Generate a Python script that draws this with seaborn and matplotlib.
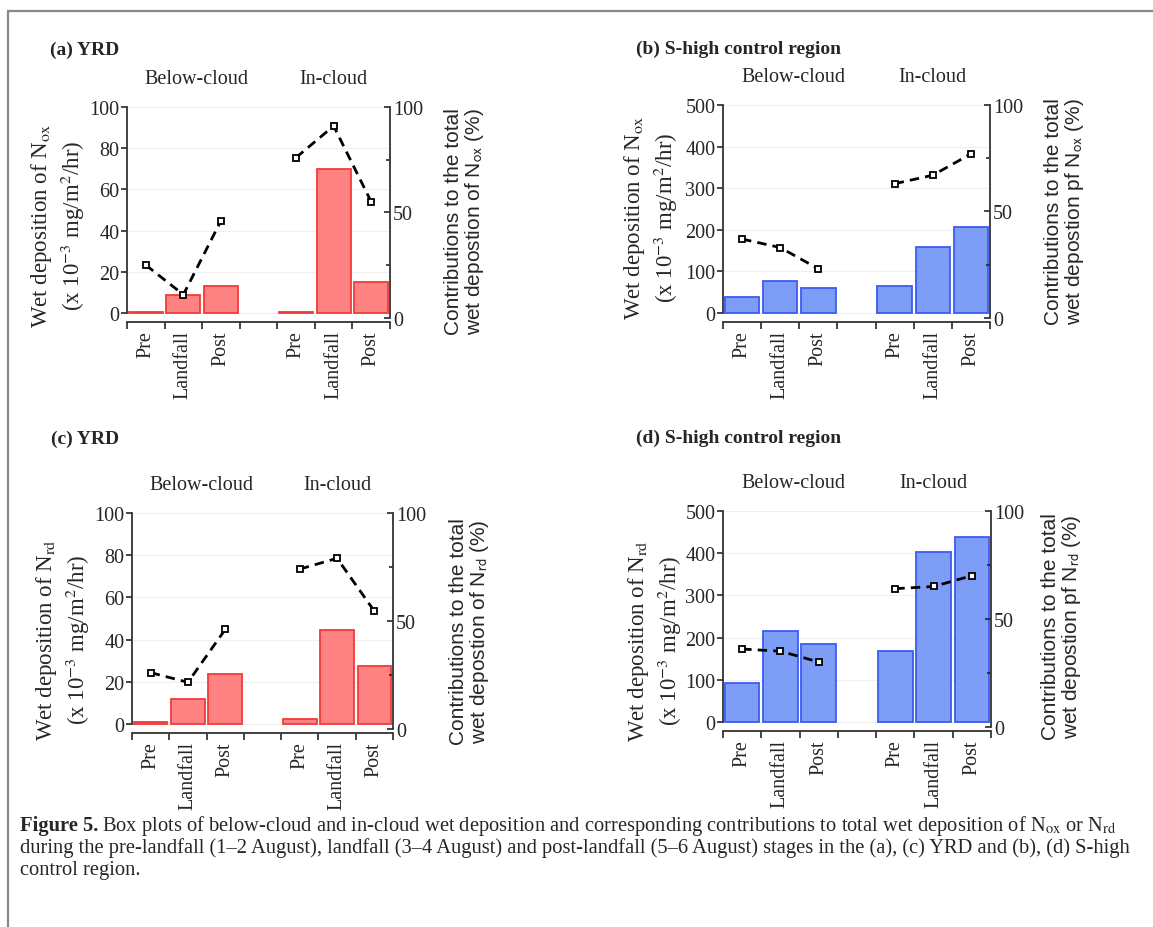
import numpy as np
import pandas as pd
import matplotlib.pyplot as plt
import seaborn as sns
from matplotlib.lines import Line2D

sns.set_style("ticks")
plt.rcParams['font.family'] = ['Liberation Serif', 'DejaVu Serif']
plt.rcParams['axes.unicode_minus'] = False

# categories
stages = ['Pre', 'Landfall', 'Post']
groups = ['Below-cloud', 'In-cloud']

# wet deposition (x 10^-3 mg/m2/hr): below-cloud Pre/Landfall/Post, in-cloud Pre/Landfall/Post
nox_yrd = [0.6, 8.9, 13, 0.6, 70, 15]
nox_shigh = [38, 77, 61, 66, 158, 207]
nrd_yrd = [0.8, 11.6, 23.5, 2.5, 44.5, 27.5]
nrd_shigh = [92, 215, 185, 167, 403, 438]

# contribution to total wet deposition (%)
nox_yrd_pct = [25, 11, 46, 76, 91, 55]
nox_shigh_pct = [37, 33, 23, 63, 67, 77]
nrd_yrd_pct = [26, 21.5, 46, 74, 79, 54.5]
nrd_shigh_pct = [36, 35, 30, 64, 65, 70]

W, H = 1153, 928
fig = plt.figure(figsize=(W / 100, H / 100), dpi=100)

RED = ('#ff8282', '#f23a3a')
BLUE = ('#7d9df7', '#3b5cf0')
slot = [0, 1, 2, 4, 5, 6]


def px_rect(l, r, t, b):
    return [l / W, 1 - b / H, (r - l) / W, (b - t) / H]


def panel(box, vals, pct, ymax, ystep, cols, title, title_xy, sp, rlab, lab_xy, rlab_xy):
    ax = fig.add_axes(px_rect(*box))
    df = pd.DataFrame({'pos': slot, 'val': vals})
    sns.barplot(data=df, x='pos', y='val', native_scale=True, width=0.9,
                color=cols[0], edgecolor=cols[1], linewidth=1.3,
                saturation=1, errorbar=None, ax=ax)
    ax.set_xlim(-0.5, 6.5)
    ax.set_ylim(-0.043 * ymax, ymax)
    ax.set_yticks(np.arange(0, ymax + 1, ystep))
    ax.set_xticks(slot)
    ax.set_xticklabels(stages * 2, rotation=90, fontsize=14.5)
    ax.set_xticks(np.arange(-0.5, 7, 1), minor=True)
    ax.tick_params(axis='x', which='major', length=0, pad=6)
    ax.tick_params(axis='x', which='minor', length=5, width=1.2, direction='out')
    ax.tick_params(axis='y', length=4, width=1.2, direction='out', pad=1.5, labelsize=14.5)
    ax.set_xlabel('')
    ax.set_ylabel('')
    for s in ['top', 'right']:
        ax.spines[s].set_visible(False)
    ax.spines['left'].set_bounds(0, ymax)
    for s in ['left', 'bottom']:
        ax.spines[s].set_linewidth(1.3)
        ax.spines[s].set_color('#333333')
    ax.yaxis.grid(True, color='#efefef', lw=0.8)
    ax.set_axisbelow(True)

    ax2 = ax.twinx()
    pdf = pd.DataFrame({'pos': slot, 'pct': pct})
    for part in (pdf.iloc[:3], pdf.iloc[3:]):
        sns.lineplot(data=part, x='pos', y='pct', ax=ax2, color='black',
                     linestyle=(0, (3.4, 2.2)), linewidth=2, marker='s',
                     markersize=5, markerfacecolor='white',
                     markeredgecolor='black', markeredgewidth=1.3)
    ax2.set_ylim(-2, 100)
    ax2.set_yticks([0, 50, 100])
    ax2.set_yticks([25, 75], minor=True)
    ax2.tick_params(axis='y', which='both', direction='in', width=1.2, pad=2, labelsize=14.5)
    ax2.tick_params(axis='y', which='major', length=4)
    ax2.tick_params(axis='y', which='minor', length=3)
    ax2.set_ylabel('')
    ax2.set_xlabel('')
    for s in ['top', 'left', 'bottom']:
        ax2.spines[s].set_visible(False)
    ax2.spines['right'].set_bounds(0, 100)
    ax2.spines['right'].set_linewidth(1.3)
    ax2.spines['right'].set_color('#333333')

    # group headers
    trans = ax.get_xaxis_transform()
    dy = 28 / (box[3] - box[2])
    ax.text(1.35, 1 + dy, groups[0], transform=trans, ha='center', va='center', fontsize=14.5)
    ax.text(5, 1 + dy, groups[1], transform=trans, ha='center', va='center', fontsize=14.5)

    fig.text(title_xy[0] / W, 1 - title_xy[1] / H, title, ha='left', va='center',
             fontsize=14, fontweight='bold')
    fig.text(lab_xy[0] / W, 1 - lab_xy[1] / H,
             'Wet deposition of N$_{\\rm ' + sp + '}$\n(x 10$^{-3}$ mg/m$^{2}$/hr)',
             rotation=90, ha='center', va='center', ma='center', fontsize=16.5,
             math_fontfamily='stix', linespacing=1.25)
    fig.text(rlab_xy[0] / W, 1 - rlab_xy[1] / H,
             'Contributions to the total\nwet depostion ' + rlab + ' N$_{\\rm ' + sp + '}$ (%)',
             rotation=90, ha='center', va='center', ma='center', fontsize=15,
             family=['Liberation Sans', 'DejaVu Sans'], math_fontfamily='stixsans',
             linespacing=1.0)
    return ax


panel((127, 390, 108, 323), nox_yrd, nox_yrd_pct, 100, 20, RED,
      '(a) YRD', (50, 50), 'ox', 'of', (58, 226), (465, 222))
panel((723, 990, 106, 323), nox_shigh, nox_shigh_pct, 500, 100, BLUE,
      '(b) S-high control region', (636, 49), 'ox', 'pf', (651, 218), (1065, 212))
panel((132, 393, 514, 734), nrd_yrd, nrd_yrd_pct, 100, 20, RED,
      '(c) YRD', (51, 439), 'rd', 'of', (63, 640), (470, 632))
panel((723, 991, 512, 732), nrd_shigh, nrd_shigh_pct, 500, 100, BLUE,
      '(d) S-high control region', (636, 438), 'rd', 'pf', (655, 641), (1062, 627))

# caption
cap_lines = ['Box plots of below-cloud and in-cloud wet deposition and corresponding '
             'contributions to total wet deposition of N$_{\\rm ox}$ or N$_{\\rm rd}$',
             'during the pre-landfall (1\u20132 August), landfall (3\u20134 August) and post-landfall '
             '(5\u20136 August) stages in the (a), (c) YRD and (b), (d) S-high',
             'control region.']
base = 12.5
head = fig.text(20 / W, 1 - 826 / H, 'Figure 5.', ha='left', va='center',
                fontsize=base, fontweight='bold')
cap_txt = [fig.text(20 / W, 1 - (826 + 22.5 * i) / H, line, ha='left', va='center',
                    fontsize=base, math_fontfamily='stix')
           for i, line in enumerate(cap_lines)]


def place_caption():
    fig.canvas.draw()
    r = fig.canvas.get_renderer()
    x1 = head.get_window_extent(r).x1
    cap_txt[0].set_x((x1 + 4) / W)
    fig.canvas.draw()
    return max(cap_txt[0].get_window_extent(r).x1, cap_txt[1].get_window_extent(r).x1)


scale = (1139 - 20) / (place_caption() - 20)
head.set_fontsize(base * scale)
for t in cap_txt:
    t.set_fontsize(base * scale)
place_caption()

# outer frame
fig.add_artist(Line2D([8 / W, 1], [1 - 12 / H, 1 - 12 / H], transform=fig.transFigure,
                      color='#888888', lw=1.6))
fig.add_artist(Line2D([8 / W, 8 / W], [0, 1 - 12 / H], transform=fig.transFigure,
                      color='#888888', lw=1.6))

fig.savefig('out.png', dpi=100)
